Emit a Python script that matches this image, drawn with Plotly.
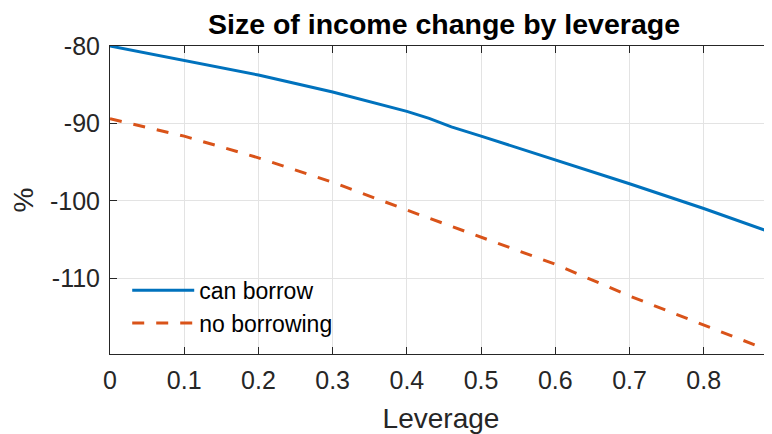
import plotly.graph_objects as go

leverage_borrow = [0, 0.1, 0.2, 0.3, 0.4, 0.43, 0.46, 0.5, 0.6, 0.7, 0.8, 0.9]
can_borrow = [-80.0, -81.87, -83.75, -85.95, -88.45, -89.35, -90.45, -91.65, -94.7, -97.8, -101.0, -104.4]

leverage_no = [0, 0.1, 0.2, 0.3, 0.4, 0.5, 0.6, 0.7, 0.8, 0.9]
no_borrowing = [-89.4, -91.65, -94.45, -97.6, -101.2, -104.7, -108.2, -112.3, -116.0, -119.8]

x_ticks = [0, 0.1, 0.2, 0.3, 0.4, 0.5, 0.6, 0.7, 0.8]
x_tick_labels = ["0", "0.1", "0.2", "0.3", "0.4", "0.5", "0.6", "0.7", "0.8"]
y_ticks = [-110, -100, -90, -80]
y_tick_labels = ["-110", "-100", "-90", "-80"]

ink = "#262626"
font = "Liberation Sans, Arial, sans-serif"

data = [
  go.Scatter(
    x=leverage_borrow, y=can_borrow, mode="lines", name="can borrow",
    line=dict(color="#0072BD", width=3),
  ),
  go.Scatter(
    x=leverage_no, y=no_borrowing, mode="lines", name="no borrowing",
    line=dict(color="#D95319", width=3, dash="12px,12px"),
  ),
]

axis_common = dict(
  showline=True, linecolor=ink, linewidth=1,
  ticks="inside", ticklen=7, tickcolor=ink,
  showgrid=True, gridcolor="#e3e3e3", gridwidth=1,
  zeroline=False, automargin=False,
  tickfont=dict(family=font, size=25, color=ink),
  ticklabelstandoff=4,
)

# the page body adds an 8px margin, so the figure margins are shifted to match
layout = go.Layout(
  width=772, height=434,
  margin=dict(l=102, r=8, t=38, b=88),
  paper_bgcolor="white", plot_bgcolor="white",
  title=dict(
    text="<b>Size of income change by leverage</b>",
    font=dict(family=font, size=28.5, color="black"),
    x=436 / 772, xanchor="center", xref="container",
    y=1 - 16 / 434, yanchor="middle", yref="container",
  ),
  xaxis=dict(
    axis_common, range=[0, 0.892], tickvals=x_ticks, ticktext=x_tick_labels,
    mirror="ticks",
    title=dict(text="Leverage", font=dict(family=font, size=28, color=ink), standoff=15),
  ),
  yaxis=dict(
    axis_common, range=[-119.8, -80], tickvals=y_ticks, ticktext=y_tick_labels,
    mirror="ticks",
    title=dict(text="%", font=dict(family=font, size=28, color=ink), standoff=13),
  ),
  legend=dict(
    x=0.026, y=0.03, xanchor="left", yanchor="bottom",
    bgcolor="rgba(0,0,0,0)", itemwidth=62,
    font=dict(family=font, size=23, color="black"),
    tracegroupgap=0,
  ),
)

fig = go.Figure(data=data, layout=layout)
fig.write_html("out.html")
